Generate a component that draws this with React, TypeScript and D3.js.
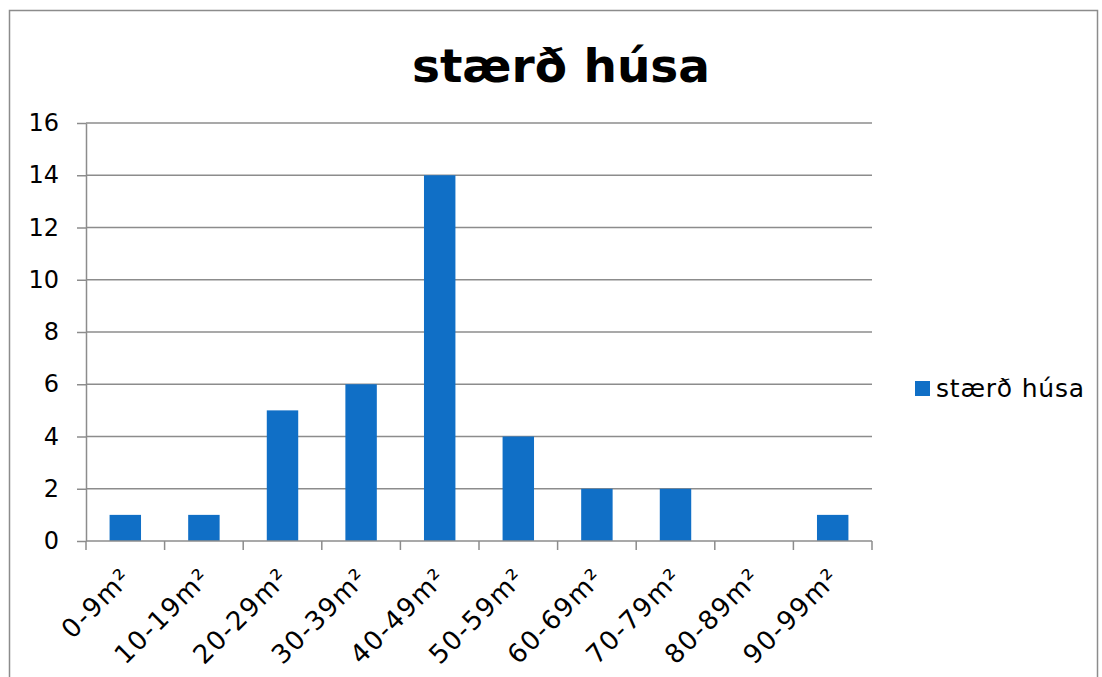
import React from 'react';
import * as d3 from 'd3';

const categories = ['0-9m²', '10-19m²', '20-29m²', '30-39m²', '40-49m²', '50-59m²', '60-69m²', '70-79m²', '80-89m²', '90-99m²'];
const counts = [1, 1, 5, 6, 14, 4, 2, 2, 0, 1];
const yTicks = [0, 2, 4, 6, 8, 10, 12, 14, 16];
const seriesName = 'stærð húsa';
const title = 'stærð húsa';

const App = () => {
    const svgRef = React.useRef<SVGSVGElement>(null);

    React.useEffect(() => {
        const svg = d3.select(svgRef.current);
        svg.selectAll('*').remove();
        const font = '"DejaVu Sans", Verdana, sans-serif';
        const grey = '#8c8c8c';
        const left = 86, right = 872, top = 123, bottom = 541;

        // outer chart border
        svg.append('rect')
            .attr('x', 9.5).attr('y', 10.5)
            .attr('width', 1088).attr('height', 700)
            .attr('fill', 'white').attr('stroke', grey).attr('stroke-width', 1.5);

        svg.append('text')
            .attr('x', 561).attr('y', 82)
            .attr('text-anchor', 'middle')
            .attr('font-family', font).attr('font-weight', 'bold').attr('font-size', 47)
            .text(title);

        const x = d3.scaleBand().domain(categories).range([left, right]).paddingInner(0.6).paddingOuter(0.3);
        const band = d3.scaleBand().domain(categories).range([left, right]);
        const y = d3.scaleLinear().domain([0, 16]).range([bottom, top]);

        const chart = svg.append('g');

        // gridlines
        chart.selectAll('.grid')
            .data(yTicks.filter(t => t > 0))
            .join('line')
            .attr('class', 'grid')
            .attr('x1', left).attr('x2', right)
            .attr('y1', d => y(d)).attr('y2', d => y(d))
            .attr('stroke', grey).attr('stroke-width', 1.5);

        // y axis
        const yAxis = d3.axisLeft(y).tickValues(yTicks).tickSize(9).tickPadding(18).tickSizeOuter(0);
        const yG = chart.append('g').attr('transform', `translate(${left},0)`).call(yAxis);
        yG.selectAll('line, path').attr('stroke', grey).attr('stroke-width', 1.5);
        yG.selectAll('text').attr('font-family', font).attr('font-size', 24).attr('fill', '#000');

        // bars
        chart.selectAll('.bar')
            .data(categories.map((c, i) => ({ c, v: counts[i] })))
            .join('rect')
            .attr('class', 'bar')
            .attr('x', d => x(d.c)!)
            .attr('width', x.bandwidth())
            .attr('y', d => y(d.v))
            .attr('height', d => bottom - y(d.v))
            .attr('fill', '#106fc6');

        // x axis
        chart.append('line')
            .attr('x1', left).attr('x2', right).attr('y1', bottom).attr('y2', bottom)
            .attr('stroke', grey).attr('stroke-width', 1.5);
        const edges = categories.map(c => band(c)!).concat([right]);
        chart.selectAll('.xtick')
            .data(edges)
            .join('line')
            .attr('class', 'xtick')
            .attr('x1', d => d).attr('x2', d => d)
            .attr('y1', bottom).attr('y2', bottom + 9)
            .attr('stroke', grey).attr('stroke-width', 1.5);
        chart.selectAll('.xlabel')
            .data(categories)
            .join('text')
            .attr('class', 'xlabel')
            .attr('transform', d => `translate(${band(d)! + band.bandwidth() / 2 + 8},${bottom + 38}) rotate(-45)`)
            .attr('text-anchor', 'end')
            .attr('font-family', font).attr('font-size', 26).attr('letter-spacing', 1.6)
            .text(d => d);

        // legend
        const lg = svg.append('g').attr('transform', 'translate(915,381)');
        lg.append('rect').attr('width', 15).attr('height', 15).attr('fill', '#106fc6');
        lg.append('text')
            .attr('x', 21).attr('y', 16)
            .attr('font-family', font).attr('font-size', 25).attr('letter-spacing', 0.8)
            .text(seriesName);
    }, []);

    return (
        <svg ref={svgRef} width={1102} height={677} style={{ position: 'absolute', left: 0, top: 0 }}></svg>
    );
};

export default App;
